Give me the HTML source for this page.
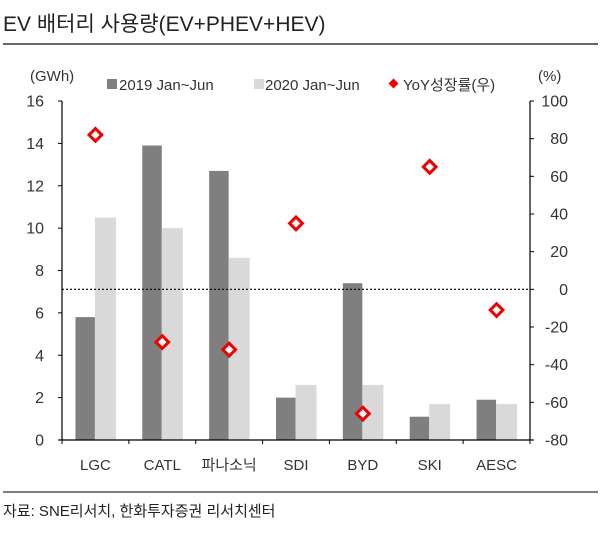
<!DOCTYPE html>
<html><head><meta charset="utf-8"><style>
body{margin:0;background:#fff;width:600px;height:534px;overflow:hidden;font-family:"Liberation Sans","Noto Sans CJK KR",sans-serif;}
svg text{font-family:"Liberation Sans","Noto Sans CJK KR",sans-serif;}
</style></head><body>
<svg id="c" width="600" height="534" xmlns="http://www.w3.org/2000/svg">
<text x="3" y="31" font-size="21" fill="#222">EV 배터리 사용량(EV+PHEV+HEV)</text>
<line x1="3" y1="44" x2="598" y2="44" stroke="#333" stroke-width="1.5"/>
<text x="30" y="81" font-size="15" fill="#333">(GWh)</text>
<text x="538" y="81" font-size="15" fill="#333">(%)</text>
<g>
<rect x="107" y="79" width="10" height="10" fill="#7f7f7f"/>
<text x="119" y="90" font-size="15" fill="#333">2019 Jan~Jun</text>
<rect x="254" y="79" width="10" height="10" fill="#d9d9d9"/>
<text x="265" y="90" font-size="15" fill="#333">2020 Jan~Jun</text>
<rect x="390" y="80" width="7" height="7" fill="#e00" transform="rotate(45 393.5 83.5)"/>
<text x="403" y="90" font-size="15" fill="#333">YoY성장률(우)</text>
</g>
<g id="plot"></g>
<line x1="3" y1="492" x2="598" y2="492" stroke="#333" stroke-width="1.2"/>
<text x="3" y="516" font-size="15" fill="#222">자료: SNE리서치, 한화투자증권 리서치센터</text>
</svg>
<script>
const categories=["LGC","CATL","파나소닉","SDI","BYD","SKI","AESC"];
const v2019=[5.8,13.9,12.7,2.0,7.4,1.1,1.9];
const v2020=[10.5,10.0,8.6,2.6,2.6,1.7,1.7];
const yoy=[82,-28,-32,35,-66,65,-11];
const leftTicks=[0,2,4,6,8,10,12,14,16];
const rightTicks=[-80,-60,-40,-20,0,20,40,60,80,100];
const NS="http://www.w3.org/2000/svg";
const g=document.getElementById('plot');
const X0=62,X1=530,Y0=440,Y1=101;
const band=(X1-X0)/categories.length;
const yL=v=>Y0-(v/16)*(Y0-Y1);
const yR=v=>Y0-((v+80)/180)*(Y0-Y1);
const xC=i=>X0+band*(i+0.5);
function el(t,a){const e=document.createElementNS(NS,t);for(const k in a)e.setAttribute(k,a[k]);g.appendChild(e);return e;}
let e;
// bars
categories.forEach((c,i)=>{
 e=el('rect',{x:xC(i)-20,y:yL(v2019[i]),width:19.5,height:Y0-yL(v2019[i]),fill:'#7f7f7f'});
 
 
 e=el('rect',{x:xC(i)-0.5,y:yL(v2020[i]),width:21,height:Y0-yL(v2020[i]),fill:'#d9d9d9'});
 
 
 e=el('text',{x:xC(i),y:470,'font-size':15,fill:'#333','text-anchor':'middle'});e.textContent=c;
 
 
});
// zero line
e=el('line',{x1:X0,x2:X1,y1:yR(0),y2:yR(0),stroke:'#000','stroke-width':1.2,'stroke-dasharray':'2,2'});


// axes
e=el('line',{x1:X0,x2:X0,y1:Y1,y2:Y0,stroke:'#000','stroke-width':1.2});


e=el('line',{x1:X1,x2:X1,y1:Y1,y2:Y0,stroke:'#000','stroke-width':1.2});


e=el('line',{x1:X0-3,x2:X1+3,y1:Y0,y2:Y0,stroke:'#000','stroke-width':1.2});


for(let i=0;i<=categories.length;i++){e=el('line',{x1:X0+band*i,x2:X0+band*i,y1:Y0,y2:Y0+4,stroke:'#000'});
 
 }
leftTicks.forEach(t=>{
 e=el('line',{x1:X0-4,x2:X0,y1:yL(t),y2:yL(t),stroke:'#000'});
 
 
 e=el('text',{x:44,y:yL(t)+5.5,'font-size':16,fill:'#333','text-anchor':'end'});e.textContent=t;
 
 
});
rightTicks.forEach(t=>{
 e=el('line',{x1:X1,x2:X1+4,y1:yR(t),y2:yR(t),stroke:'#000'});
 
 
 e=el('text',{x:X1+38,y:yR(t)+5.5,'font-size':16,fill:'#333','text-anchor':'end'});e.textContent=t;
 
 
});
// yoy markers
yoy.forEach((v,i)=>{
 const cx=xC(i),cy=yR(v);
 e=el('rect',{x:cx-4.5,y:cy-4.5,width:9,height:9,fill:'#fff',stroke:'#e00','stroke-width':3,transform:`rotate(45 ${cx} ${cy})`});
 
 
});
</script>
</body></html>
